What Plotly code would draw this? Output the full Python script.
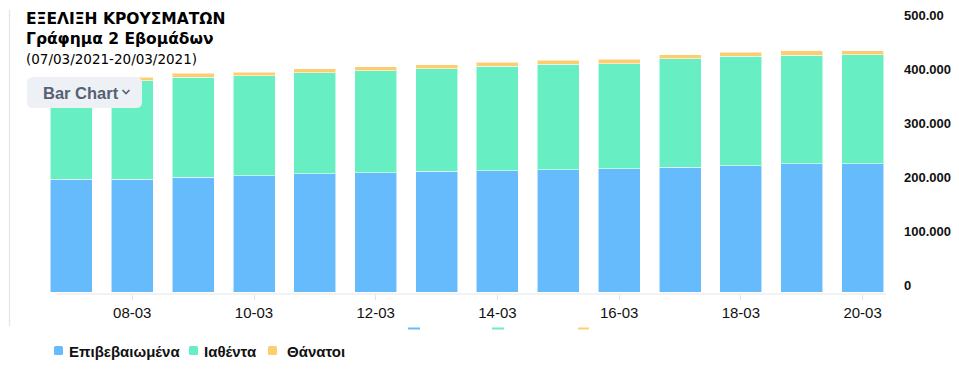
import plotly.graph_objects as go

W, H = 959, 373

categories = ["07-03", "08-03", "09-03", "10-03", "11-03", "12-03", "13-03",
              "14-03", "15-03", "16-03", "17-03", "18-03", "19-03", "20-03"]
confirmed = [205500, 206000, 209600, 212000, 215600, 217500, 220500,
             221100, 222900, 224700, 227800, 230200, 233800, 233300]
recovered = [176900, 178200, 181300, 181800, 183600, 184900, 186000,
             189800, 191600, 190900, 196400, 198900, 197600, 198200]
deaths = [7000, 6700, 7300, 6700, 7200, 7300, 7300,
          7800, 7800, 8000, 7300, 7800, 7800, 7800]

series_names = ["Επιβεβαιωμένα", "Ιαθέντα", "Θάνατοι"]
series_colors = ["#66bbfd", "#67efc3", "#fecd6f"]
series_values = [confirmed, recovered, deaths]

y_tickvals = [0, 100000, 200000, 300000, 400000, 500000]
y_ticktext = ["0", "100.000", "200.000", "300.000", "400.000", "500.00"]
x_tickvals = categories[1::2]

title_lines = ["ΕΞΕΛΙΞΗ ΚΡΟΥΣΜΑΤΩΝ", "Γράφημα 2 Εβομάδων", "(07/03/2021-20/03/2021)"]


def px(x):
    return x / W


def py(y):
    return 1 - y / H


fig = go.Figure()
for name, color, vals in zip(series_names, series_colors, series_values):
    fig.add_trace(go.Bar(
        x=categories, y=vals, name=name,
        marker=dict(color=color, line=dict(color="rgba(255,255,255,0.55)", width=1)),
        showlegend=False,
    ))
# empty trace so that the label axis (y2) gets drawn
fig.add_trace(go.Scatter(x=categories[:1], y=[None], yaxis="y2", mode="markers",
                         showlegend=False, hoverinfo="skip"))

shapes = []
annotations = []

# frame line on the left
shapes.append(dict(type="line", xref="paper", yref="paper",
                   x0=px(9.5), x1=px(9.5), y0=py(10), y1=py(326),
                   line=dict(color="#dfe4ea", width=1.2)))

# x axis base line
shapes.append(dict(type="line", xref="paper", yref="paper",
                   x0=px(57), x1=px(886), y0=py(294), y1=py(294),
                   line=dict(color="#e6e6e6", width=1.2)))

# title
annotations.append(dict(text="<b>" + title_lines[0] + "</b>", x=px(24), y=py(18.5),
                        xref="paper", yref="paper", xanchor="left", yanchor="middle",
                        showarrow=False, font=dict(family="DejaVu Sans", size=15.5, color="#000")))
annotations.append(dict(text="<b>" + title_lines[1] + "</b>", x=px(24), y=py(39),
                        xref="paper", yref="paper", xanchor="left", yanchor="middle",
                        showarrow=False, font=dict(family="DejaVu Sans", size=15.5, color="#000")))
annotations.append(dict(text=title_lines[2], x=px(24), y=py(59),
                        xref="paper", yref="paper", xanchor="left", yanchor="middle",
                        showarrow=False, font=dict(family="DejaVu Sans", size=13.5, color="#000")))

# "Bar Chart" button (rounded rectangle)
bx0, by0, bx1, by1, r = 27, 77, 142, 108, 6
rx, ry = r / W, r / H
X0, X1, Y0, Y1 = px(bx0), px(bx1), py(by1), py(by0)
path = (f"M{X0+rx},{Y0} L{X1-rx},{Y0} Q{X1},{Y0} {X1},{Y0+ry} "
        f"L{X1},{Y1-ry} Q{X1},{Y1} {X1-rx},{Y1} L{X0+rx},{Y1} "
        f"Q{X0},{Y1} {X0},{Y1-ry} L{X0},{Y0+ry} Q{X0},{Y0} {X0+rx},{Y0} Z")
shapes.append(dict(type="path", xref="paper", yref="paper", path=path,
                   fillcolor="#edf1f6", line=dict(width=0), layer="above"))
annotations.append(dict(text="<b>Bar Chart</b>", x=px(41), y=py(92.5),
                        xref="paper", yref="paper", xanchor="left", yanchor="middle",
                        showarrow=False, font=dict(family="Liberation Sans", size=16.5, color="#566072")))
chev = f"M{px(122.5)},{py(90)} L{px(126)},{py(93.5)} L{px(129.5)},{py(90)}"
shapes.append(dict(type="path", xref="paper", yref="paper", path=chev,
                   line=dict(color="#566072", width=1.6), layer="above"))

# small leftover marks under the axis
for (a, b), col in zip([(408, 420), (492, 504), (578, 589)], series_colors):
    shapes.append(dict(type="rect", xref="paper", yref="paper",
                       x0=px(a), x1=px(b), y0=py(329.5), y1=py(327.5),
                       fillcolor=col, line=dict(width=0)))

# legend (manual)
legend_x = [54, 189, 268]
legend_tx = [67, 202, 285]
for name, col, lx, tx in zip(series_names, series_colors, legend_x, legend_tx):
    sx0, sx1, sy0, sy1, rr = lx, lx + 9, 346, 355, 1.5
    rrx, rry = rr / W, rr / H
    A0, A1, B0, B1 = px(sx0), px(sx1), py(sy1), py(sy0)
    p = (f"M{A0+rrx},{B0} L{A1-rrx},{B0} Q{A1},{B0} {A1},{B0+rry} "
         f"L{A1},{B1-rry} Q{A1},{B1} {A1-rrx},{B1} L{A0+rrx},{B1} "
         f"Q{A0},{B1} {A0},{B1-rry} L{A0},{B0+rry} Q{A0},{B0} {A0+rrx},{B0} Z")
    shapes.append(dict(type="path", xref="paper", yref="paper", path=p,
                       fillcolor=col, line=dict(width=0)))
    annotations.append(dict(text="<b>" + name + "</b>", x=px(tx), y=py(351.5),
                            xref="paper", yref="paper", xanchor="left", yanchor="middle",
                            showarrow=False, font=dict(family="Liberation Sans", size=15, color="#111")))

# data axis geometry: zero at y=292.3 px, 500k at y=17.3 px, domain bottom at 294
dom_bottom_px, dom_top_px = 294, 17.3
scale = (292.3 - 17.3) / 500000
y_min = -(dom_bottom_px - 292.3) / scale

# label axis (same value range, drawn slightly higher as in the reference)
lab_bottom_px, lab_top_px = 285.0, 15.0

fig.update_layout(
    width=W, height=H,
    margin=dict(l=0, r=0, t=0, b=0, pad=0),
    showlegend=False,
    paper_bgcolor="white", plot_bgcolor="rgba(0,0,0,0)",
    barmode="stack", bargap=0.31,
    shapes=shapes, annotations=annotations,
    xaxis=dict(domain=[px(41), px(893)], range=[-0.5, 13.5], type="category",
               automargin=False,
               tickvals=x_tickvals, ticks="outside", ticklen=5, tickcolor="#e3e3e3",
               showline=False, showgrid=False, zeroline=False,
               tickfont=dict(family="Liberation Sans", size=15, color="#111"),
               ticklabelstandoff=0),
    yaxis=dict(domain=[py(dom_bottom_px), py(dom_top_px)], range=[y_min, 500000],
               automargin=False, showticklabels=False,
               showgrid=False, zeroline=False, showline=False, ticks=""),
    yaxis2=dict(domain=[py(lab_bottom_px), py(lab_top_px)], range=[0, 500000],
                anchor="free", position=px(893), side="right",
                automargin=False, tickvals=y_tickvals, ticktext=y_ticktext,
                showgrid=False, zeroline=False, showline=False, ticks="",
                ticklabelstandoff=10,
                tickfont=dict(family="Liberation Sans", size=13, color="#111", weight="bold")),
)

fig.write_html("out.html")
